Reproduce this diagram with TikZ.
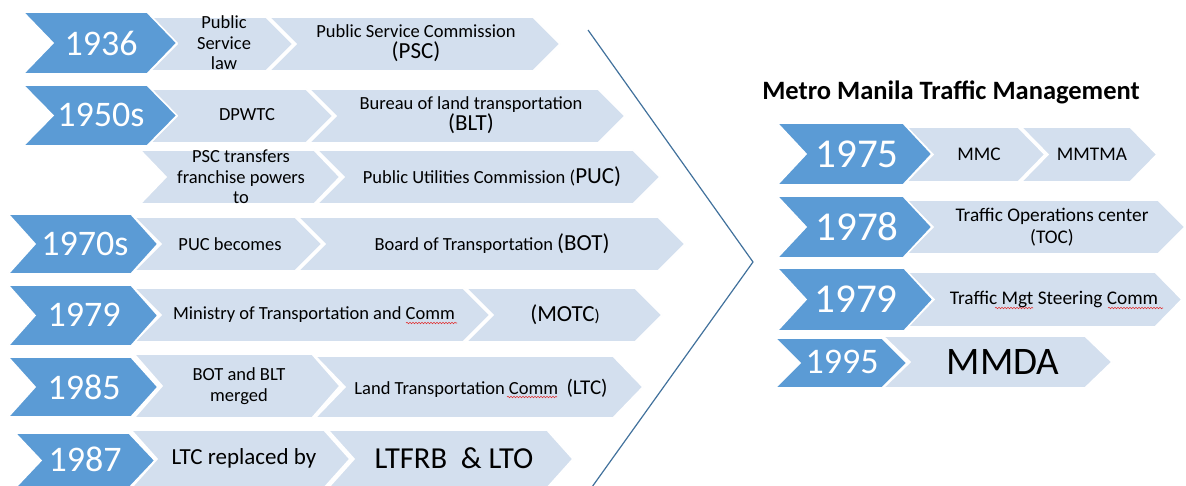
\documentclass[tikz,border=0pt]{standalone}
\usepackage{fontspec}
\setmainfont{Carlito}
\usetikzlibrary{decorations.pathmorphing}
\definecolor{darkblue}{HTML}{5B9BD5}
\definecolor{lightblue}{HTML}{D3DFEE}
\definecolor{linecol}{HTML}{41719C}
\definecolor{squig}{HTML}{E03030}
% #1 colour, #2 left x, #3 top y, #4 bottom y, #5 tip x, #6 depth
\newcommand{\chevpoly}[6]{%
  \filldraw[fill=#1,draw=white,line width=1.6pt,line join=miter]
    (#2,#3) -- ({#5-#6},#3) -- (#5,{(#3+#4)/2}) -- ({#5-#6},#4) -- (#2,#4) -- ({#2+#6},{(#3+#4)/2}) -- cycle;}
\begin{document}
\begin{tikzpicture}[x=1pt,y=-1pt,
  yearlbl/.style={text=white,inner sep=0pt,font=\fontsize{36}{36}\selectfont},
  bigyear/.style={text=white,inner sep=0pt,font=\fontsize{41}{41}\selectfont},
  lbl/.style={text=black,inner sep=0pt,align=center,font=\fontsize{18.5}{20.5}\selectfont},
  rlbl/.style={text=black,inner sep=0pt,align=center,font=\fontsize{19.3}{22}\selectfont},
  biglbl/.style={text=black,inner sep=0pt,align=center,font=\fontsize{23}{25}\selectfont},
  squiggle/.style={draw=squig,line width=0.6pt,decorate,decoration={snake,amplitude=0.7pt,segment length=3pt}}]
\useasboundingbox (0,0) rectangle (1186,486);

% ---------- left column: light chevrons ----------
\chevpoly{lightblue}{269}{17}{71}{560}{27}
\chevpoly{lightblue}{150}{17}{71}{293}{27}
\chevpoly{lightblue}{309}{89}{143}{625}{27}
\chevpoly{lightblue}{150}{89}{143}{333}{27}
\chevpoly{lightblue}{317}{150}{204}{660}{27}
\chevpoly{lightblue}{140}{150}{204}{340}{26}
\chevpoly{lightblue}{298}{217}{271}{685}{27}
\chevpoly{lightblue}{134}{217}{271}{322}{27}
\chevpoly{lightblue}{466}{288}{342}{662}{27}
\chevpoly{lightblue}{134}{288}{342}{490}{27}
\chevpoly{lightblue}{315}{356}{418}{643}{30}
\chevpoly{lightblue}{134}{354}{418}{340}{28}
\chevpoly{lightblue}{328}{430}{488}{573}{26}
\chevpoly{lightblue}{131}{430}{488}{350}{26}
% ---------- left column: dark chevrons ----------
\chevpoly{darkblue}{23}{12}{74}{177}{30}
\chevpoly{darkblue}{23}{85}{146}{177}{30}
\chevpoly{darkblue}{8}{214}{274}{158}{27}
\chevpoly{darkblue}{8}{285}{346}{158}{27}
\chevpoly{darkblue}{8}{357}{417}{158}{27}
\chevpoly{darkblue}{15}{433}{488}{155}{26}

% ---------- right column ----------
\chevpoly{lightblue}{1021}{127}{182}{1157}{27}
\chevpoly{lightblue}{906}{127}{182}{1045}{27}
\chevpoly{lightblue}{906}{200}{254}{1185}{27}
\chevpoly{lightblue}{907}{272}{327}{1182}{27}
\chevpoly{lightblue}{883}{336}{388}{1112}{27}
\chevpoly{darkblue}{777}{123}{185}{932}{29}
\chevpoly{darkblue}{777}{196}{258}{932}{29}
\chevpoly{darkblue}{777}{268}{331}{933}{29}
\chevpoly{darkblue}{775}{338}{388}{907}{25}

% big outline chevron
\coordinate (o1) at (588,30);
\coordinate (o2) at (753,262);
\coordinate (o3) at (592,487);
\draw[linecol,line width=1.2pt,line join=miter] (o1) -- (o2) -- (o3);

% ---------- left texts ----------
\node[yearlbl] (y1936) at (101,43) {1936};
\node[lbl] (t1a) at (224,43) {Public\\Service\\law};
\node[lbl] (t1b) at (416,43) {Public Service Commission\\{\fontsize{23}{25}\selectfont (PSC)}};

\node[yearlbl] (y1950) at (101,115) {1950s};
\node[lbl] (t2a) at (247,115) {DPWTC};
\node[lbl] (t2b) at (471,115) {Bureau of land transportation\\{\fontsize{23}{25}\selectfont (BLT)}};

\node[lbl] (t3a) at (241,177) {PSC transfers\\franchise powers\\to};
\node[lbl] (t3b) at (492,177) {Public Utilities Commission ({\fontsize{23}{25}\selectfont PUC)}};

\node[yearlbl] (y1970) at (85,244) {1970s};
\node[lbl] (t4a) at (230,244) {PUC becomes};
\node[lbl] (t4b) at (492,244) {Board of Transportation {\fontsize{23}{25}\selectfont (BOT)}};

\node[yearlbl] (y1979) at (84,315) {1979};
\node[lbl] (t5a) at (314,315) {Ministry of Transportation and Comm};
\node[lbl] (t5b) at (565,315) {{\fontsize{23}{25}\selectfont (MOTC}{\fontsize{17}{20}\selectfont )}};

\node[yearlbl] (y1985) at (84,387) {1985};
\node[lbl] (t6a) at (239,386) {BOT and BLT\\merged};
\node[lbl] (t6b) at (481,388) {Land Transportation Comm\ \ {\fontsize{21}{24}\selectfont (LTC)}};

\node[yearlbl] (y1987) at (85,459) {1987};
\node[biglbl] (t7a) at (244,458) {LTC replaced by};
\node[text=black,inner sep=0pt,font=\fontsize{30.5}{32}\selectfont] (t7b) at (454,458) {LTFRB\ \ \& LTO};

% ---------- right texts ----------
\node[text=black,inner sep=0pt,font=\bfseries\fontsize{26.5}{28}\selectfont] (title) at (951,92) {Metro Manila Traffic Management};
\node[bigyear] (y1975) at (857,154) {1975};
\node[rlbl] (r1a) at (979,154) {MMC};
\node[rlbl] (r1b) at (1092,154) {MMTMA};
\node[bigyear] (y1978) at (857,227) {1978};
\node[rlbl] (r2a) at (1052,227) {Traffic Operations center\\(TOC)};
\node[bigyear] (y1979r) at (856,299) {1979};
\node[rlbl] (r3a) at (1054,299) {Traffic Mgt Steering Comm};
\node[yearlbl] (y1995) at (842,362) {1995};
\node[text=black,inner sep=0pt,font=\fontsize{39}{40}\selectfont] (r4a) at (1003,362) {MMDA};

% ---------- spelling squiggles ----------
\coordinate (s1a) at (406,323); \coordinate (s1b) at (457,323);
\coordinate (s2a) at (507,397); \coordinate (s2b) at (557,397);
\coordinate (s3a) at (995,308); \coordinate (s3b) at (1033,308);
\coordinate (s4a) at (1108,308); \coordinate (s4b) at (1163,308);
\draw[squiggle] (s1a) -- (s1b);
\draw[squiggle] (s2a) -- (s2b);
\draw[squiggle] (s3a) -- (s3b);
\draw[squiggle] (s4a) -- (s4b);
\end{tikzpicture}
\end{document}
